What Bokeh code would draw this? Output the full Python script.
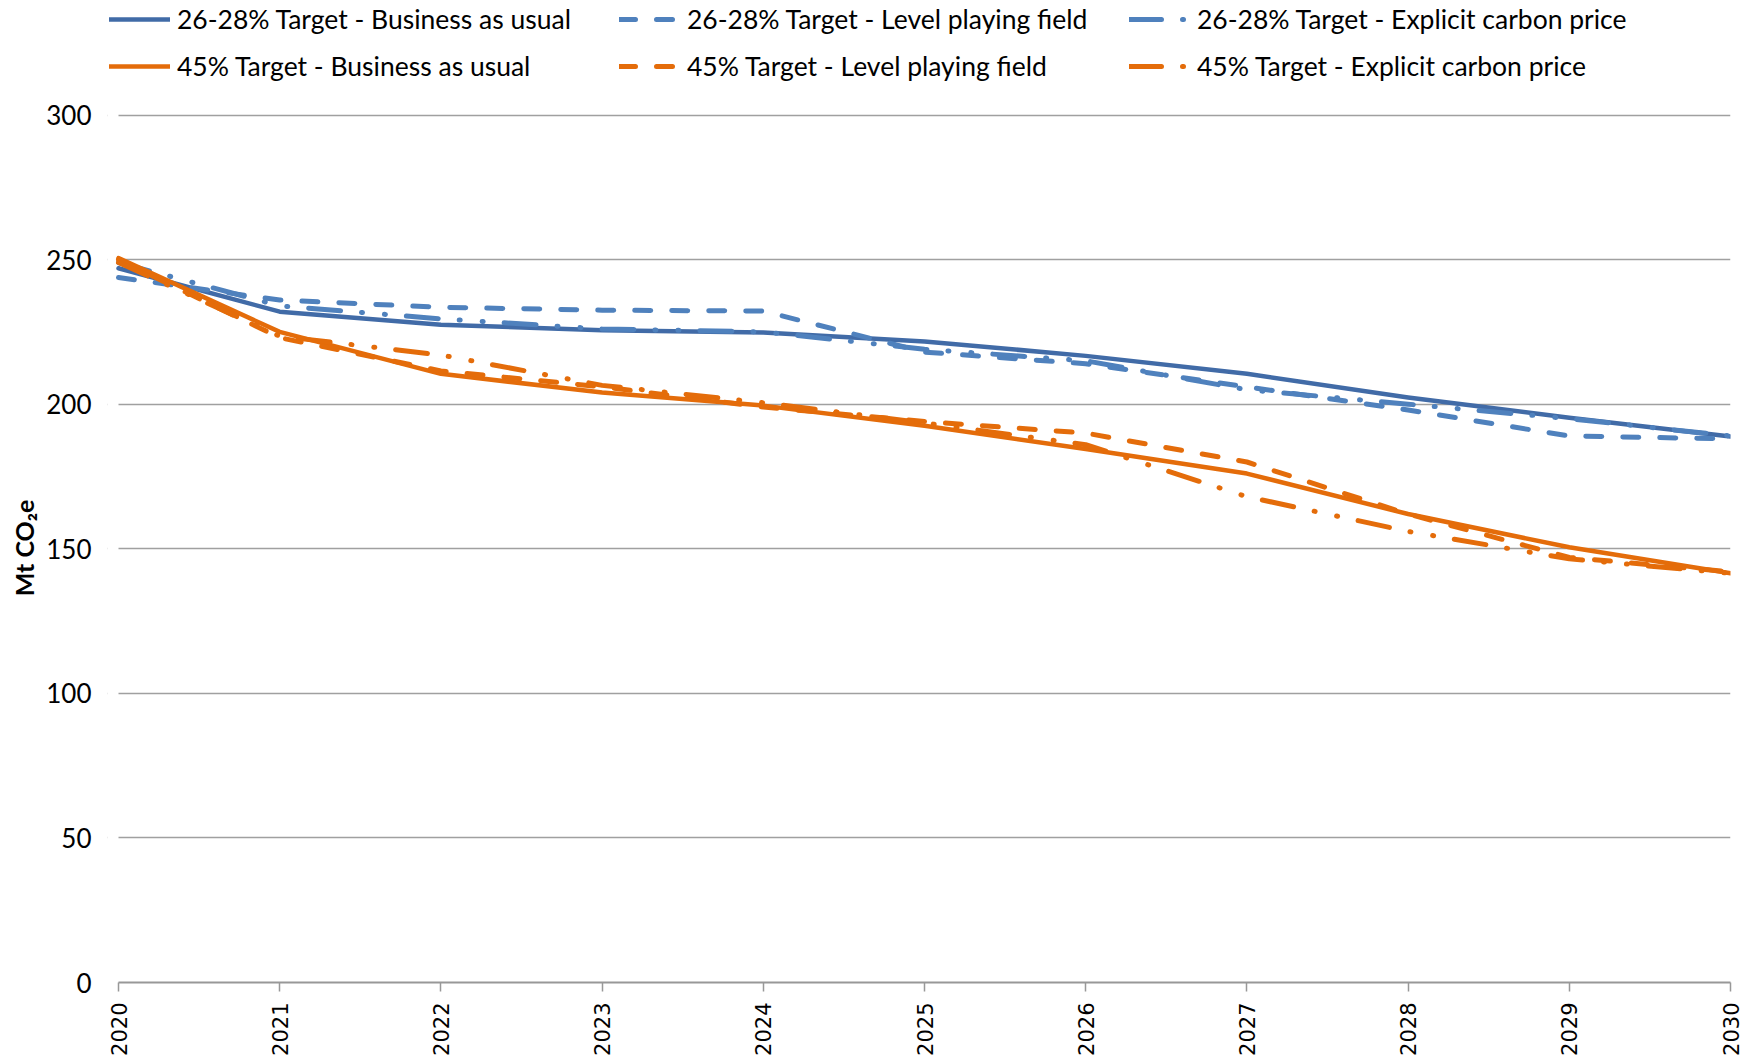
import math
from bokeh.plotting import figure
from bokeh.models import (Legend, LegendItem, FixedTicker, Range1d,
                          BoxAnnotation, Title)
from bokeh.embed import file_html
from bokeh.resources import INLINE

years = [2020, 2021, 2022, 2023, 2024, 2025, 2026, 2027, 2028, 2029, 2030]

t28_bau = [247, 232, 227.5, 225.6, 224.8, 221.7, 216.7, 210.5, 202.3, 195.3, 188.8]
t28_lpf = [243.8, 236, 233.5, 232.5, 232.2, 218, 214, 206, 198, 189, 188]
t28_ecp = [249, 234, 229.5, 226, 225, 219, 215, 205, 200, 195, 189]
t45_bau = [250.5, 225, 210.5, 204, 199.5, 192.5, 184.5, 176, 162, 150.5, 141.5]
t45_lpf = [250, 223, 211.5, 206, 199, 194, 190, 180, 162, 147, 142]
t45_ecp = [249, 223.5, 217, 206.5, 200.5, 193.5, 186, 168, 156, 146.5, 141.5]

labels = [
    "26-28% Target - Business as usual",
    "26-28% Target - Level playing field",
    "26-28% Target - Explicit carbon price",
    "45% Target - Business as usual",
    "45% Target - Level playing field",
    "45% Target - Explicit carbon price",
]
y_ticks = [0, 50, 100, 150, 200, 250, 300]
y_title = "Mt CO₂e"

BLUE_DARK = "#416BA7"
BLUE = "#4F81BD"
ORANGE = "#E46C0A"

W, H = 1762, 1059
FRAME_LEFT = 107      # canvas x where the legend glyphs begin
X0_PX = 118           # canvas x of 2020
X1_PX = 1730          # canvas x of 2030
Y300_PX = 114.5       # canvas y of 300
Y0_PX = 982           # canvas y of 0

px_per_year = (X1_PX - X0_PX) / 10.0
x_start = 2020 - (X0_PX - FRAME_LEFT) / px_per_year
y_top = 300 * Y0_PX / (Y0_PX - Y300_PX)

p = figure(width=W, height=H, output_backend="svg", toolbar_location=None,
           x_range=Range1d(x_start, 2030), y_range=Range1d(0, y_top),
           min_border_left=FRAME_LEFT, min_border_right=W - X1_PX,
           min_border_top=0, min_border_bottom=H - Y0_PX)
p.outline_line_color = None
p.background_fill_color = "white"
p.border_fill_color = "white"

DASH = "16 21"
DASHDOT = "32 21 1 22 1 21"
series = [
    (t28_bau, BLUE_DARK, "solid", 4.5),
    (t28_lpf, BLUE, DASH, 5),
    (t28_ecp, BLUE, DASHDOT, 5),
    (t45_bau, ORANGE, "solid", 4.5),
    (t45_lpf, ORANGE, DASH, 5),
    (t45_ecp, ORANGE, DASHDOT, 5),
]
renderers = []
for vals, col, dash, lw in series:
    r = p.line(years, vals, line_color=col, line_width=lw, line_dash=dash,
               line_cap="round", line_join="round")
    renderers.append(r)

# hide grid lines left of the first year
p.add_layout(BoxAnnotation(right=2020, fill_color="white", fill_alpha=1,
                           line_alpha=0, level="underlay"))

items = [LegendItem(label=lab, renderers=[r]) for lab, r in zip(labels, renderers)]


def make_legend(its, vy):
    return Legend(items=its, orientation="horizontal",
                  location=(2, vy), padding=0, margin=0, spacing=6,
                  glyph_width=61, glyph_height=32, label_height=32,
                  label_width=436, label_standoff=7,
                  label_text_font="Lato", label_text_font_size="26.5px",
                  label_text_color="#000000", label_text_baseline="middle",
                  background_fill_alpha=0, border_line_color=None)


ROW1, ROW2 = 19, 66
p.add_layout(make_legend(items[:3], Y0_PX - (ROW1 + 16)), "center")
p.add_layout(make_legend(items[3:], Y0_PX - (ROW2 + 16)), "center")

# y axis
p.yaxis.ticker = FixedTicker(ticks=y_ticks)
p.yaxis.bounds = (0, 300)
p.yaxis.axis_line_color = None
p.yaxis.major_tick_line_color = None
p.yaxis.minor_tick_line_color = None
p.yaxis.major_tick_out = 0
p.yaxis.major_tick_in = 0
p.yaxis.major_label_standoff = 16
p.yaxis.major_label_text_font = "Lato"
p.yaxis.major_label_text_font_size = "26px"
p.yaxis.major_label_text_color = "#000000"

# y title, centred on the 0-300 span (not on the taller frame)
Y_MID = (Y0_PX + Y300_PX) / 2
TITLE_LEN = 95
p.add_layout(Title(text=y_title, align="left",
                   offset=Y0_PX - (Y_MID + TITLE_LEN / 2),
                   vertical_align="bottom", standoff=10,
                   text_font="Lato", text_font_style="bold",
                   text_font_size="25px", text_color="#000000"), "left")

# x axis
p.xaxis.ticker = FixedTicker(ticks=years)
p.xaxis.bounds = (2020, 2030)
p.xaxis.axis_line_color = "#989898"
p.xaxis.axis_line_width = 2
p.xaxis.major_tick_line_color = "#989898"
p.xaxis.major_tick_line_width = 1.5
p.xaxis.major_tick_out = 9
p.xaxis.major_tick_in = 0
p.xaxis.minor_tick_line_color = None
p.xaxis.major_label_orientation = math.pi / 2
p.xaxis.major_label_standoff = 11
p.xaxis.major_label_text_font = "DejaVu Sans"
p.xaxis.major_label_text_font_size = "21px"
p.xaxis.major_label_text_color = "#000000"

p.xgrid.grid_line_color = None
p.ygrid.grid_line_color = "#A0A0A0"
p.ygrid.grid_line_width = 1.5

open("out.html", "w").write(file_html(p, INLINE))
